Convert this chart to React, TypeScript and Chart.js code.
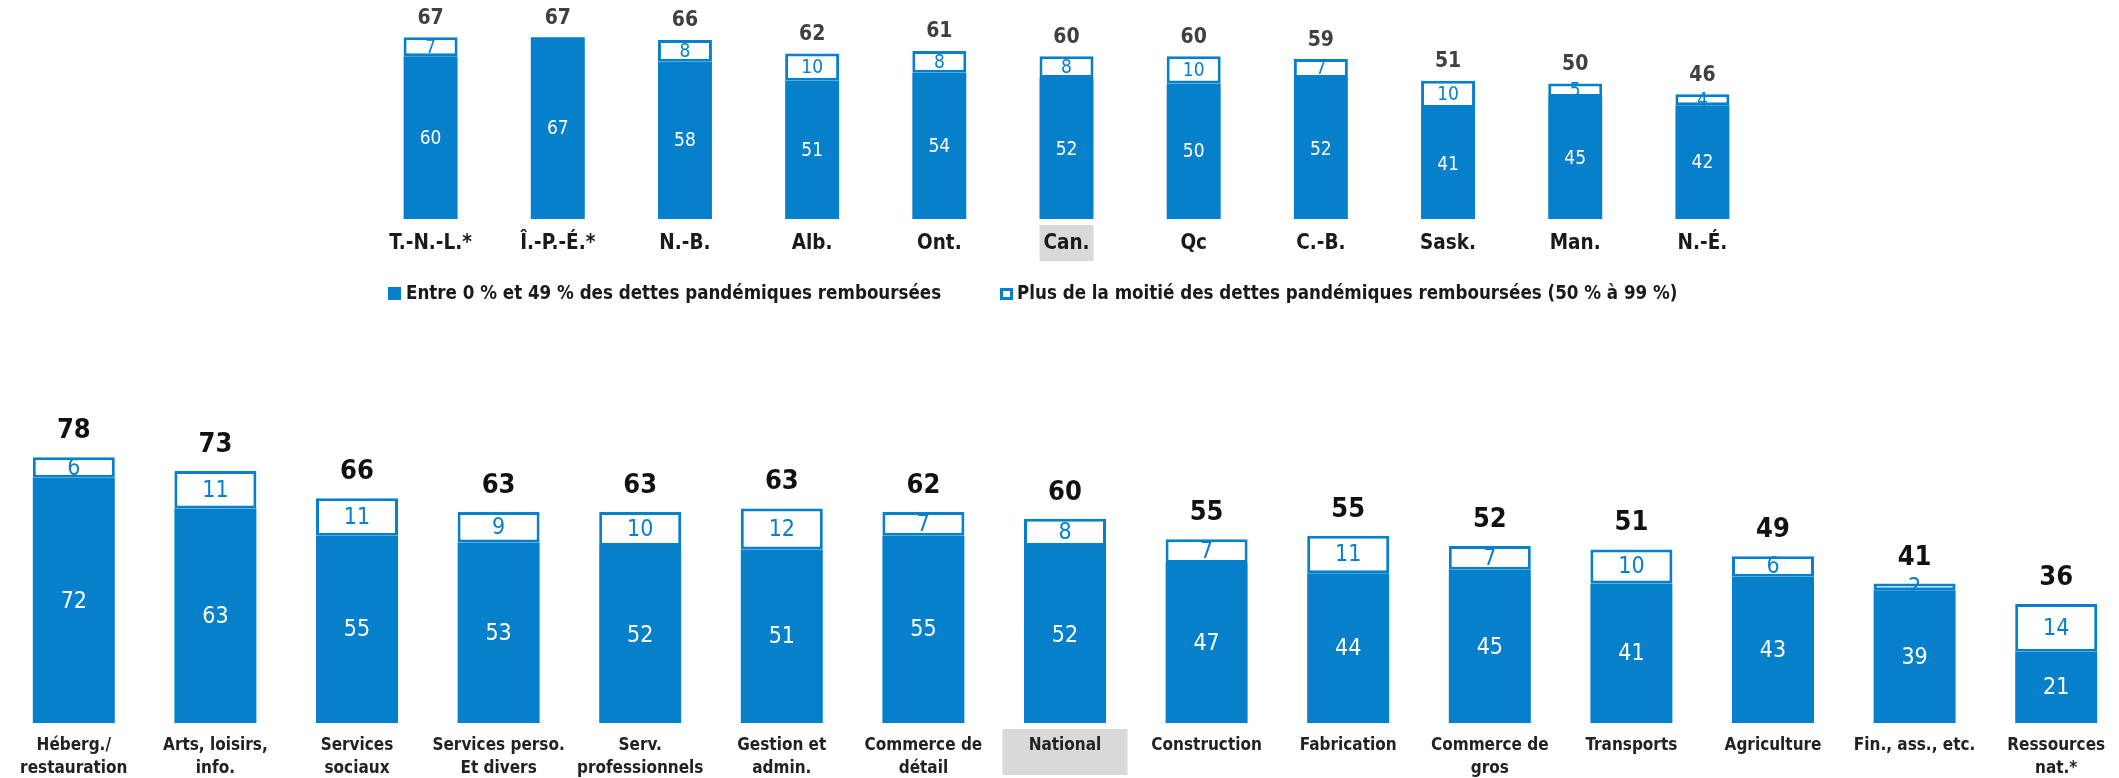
import React, { useEffect, useRef } from "react";
import { Chart, registerables } from "chart.js";

Chart.register(...registerables);

// ---------- DATA ----------
const provinces = ["T.-N.-L.*", "Î.-P.-É.*", "N.-B.", "Alb.", "Ont.", "Can.", "Qc", "C.-B.", "Sask.", "Man.", "N.-É."];
const provLow = [60, 67, 58, 51, 54, 52, 50, 52, 41, 45, 42];
const provHigh = [7, 0, 8, 10, 8, 8, 10, 7, 10, 5, 4];
const provTotal = [67, 67, 66, 62, 61, 60, 60, 59, 51, 50, 46];

const industries = [
  "Héberg./\nrestauration",
  "Arts, loisirs,\ninfo.",
  "Services\nsociaux",
  "Services perso.\nEt divers",
  "Serv.\nprofessionnels",
  "Gestion et\nadmin.",
  "Commerce de\ndétail",
  "National",
  "Construction",
  "Fabrication",
  "Commerce de\ngros",
  "Transports",
  "Agriculture",
  "Fin., ass., etc.",
  "Ressources\nnat.*",
];
const indLow = [72, 63, 55, 53, 52, 51, 55, 52, 47, 44, 45, 41, 43, 39, 21];
const indHigh = [6, 11, 11, 9, 10, 12, 7, 8, 7, 11, 7, 10, 6, 2, 14];
const indTotal = [78, 73, 66, 63, 63, 63, 62, 60, 55, 55, 52, 51, 49, 41, 36];

const seriesNames = [
  "Entre 0 % et 49 % des dettes pandémiques remboursées",
  "Plus de la moitié des dettes pandémiques remboursées (50 % à 99 %)",
];
const highlightTop = "Can.";
const highlightBottom = "National";

// ---------- STYLE ----------
const BLUE = "#0680CA";
const FONT = "'DejaVu Sans Condensed', 'DejaVu Sans', sans-serif";

type Spec = {
  labels: string[];
  low: number[];
  high: number[];
  total: number[];
  yMax: number;
  padBottom: number;
  barPct: number;
  innerFont: string;
  totalFont: string;
  totalColor: string;
  totalOffset: number;
  catFont: string;
  catColor: string;
  catY: number;
  catLine: number;
  highlight: string;
  boxW: number;
  boxTop: number;
  boxH: number;
};

function makePlugin(s: Spec) {
  return {
    id: "customLabels",
    afterDatasetsDraw(chart: any) {
      const ctx = chart.ctx as CanvasRenderingContext2D;
      const xs = chart.scales.x;
      const m0 = chart.getDatasetMeta(0);
      const m1 = chart.getDatasetMeta(1);
      ctx.save();
      ctx.textAlign = "center";
      ctx.textBaseline = "middle";
      for (let i = 0; i < s.labels.length; i++) {
        const b0 = m0.data[i];
        const b1 = m1.data[i];
        ctx.font = s.innerFont;
        ctx.fillStyle = "#ffffff";
        ctx.fillText(String(s.low[i]), b0.x, (b0.y + b0.base) / 2 + 1);
        if (s.high[i] > 0) {
          ctx.fillStyle = BLUE;
          ctx.fillText(String(s.high[i]), b1.x, (b1.y + b1.base) / 2 + 1);
        }
        ctx.font = s.totalFont;
        ctx.fillStyle = s.totalColor;
        ctx.fillText(String(s.total[i]), b1.x, b1.y - s.totalOffset);

        // category labels
        const cx = xs.getPixelForValue(i);
        if (s.labels[i] === s.highlight) {
          ctx.fillStyle = "#d9d9d9";
          ctx.fillRect(cx - s.boxW / 2, s.boxTop, s.boxW, s.boxH);
        }
        ctx.font = s.catFont;
        ctx.fillStyle = s.catColor;
        const lines = s.labels[i].split("\n");
        lines.forEach((ln, k) => ctx.fillText(ln, cx, s.catY + k * s.catLine));
      }
      ctx.restore();
    },
  };
}

function BarChart({ spec, left, top, width, height }: { spec: Spec; left: number; top: number; width: number; height: number }) {
  const ref = useRef<HTMLCanvasElement | null>(null);
  useEffect(() => {
    if (!ref.current) return;
    const chart = new Chart(ref.current, {
      type: "bar",
      data: {
        labels: spec.labels,
        datasets: [
          {
            label: seriesNames[0],
            data: spec.low,
            backgroundColor: BLUE,
            borderWidth: 0,
            barPercentage: spec.barPct,
            categoryPercentage: 1,
          },
          {
            label: seriesNames[1],
            data: spec.high,
            backgroundColor: "#ffffff",
            borderColor: BLUE,
            borderWidth: 3,
            borderSkipped: false,
            barPercentage: spec.barPct,
            categoryPercentage: 1,
          },
        ],
      },
      options: {
        responsive: false,
        animation: false,
        devicePixelRatio: 1,
        layout: { padding: { top: 0, left: 0, right: 0, bottom: spec.padBottom } },
        scales: {
          x: { stacked: true, display: false },
          y: { stacked: true, display: false, min: 0, max: spec.yMax },
        },
        plugins: { legend: { display: false }, tooltip: { enabled: false } },
      },
      plugins: [makePlugin(spec)],
    } as any);
    return () => chart.destroy();
  }, []);
  return (
    <canvas
      ref={ref}
      width={width}
      height={height}
      style={{ position: "absolute", left, top, width, height }}
    />
  );
}

const topSpec: Spec = {
  labels: provinces,
  low: provLow,
  high: provHigh,
  total: provTotal,
  yMax: 219.3 / 2.716,
  padBottom: 320 - 219.3,
  barPct: 0.4245,
  innerFont: `19px ${FONT}`,
  totalFont: `bold 21px ${FONT}`,
  totalColor: "#404040",
  totalOffset: 19,
  catFont: `bold 20.5px ${FONT}`,
  catColor: "#1a1a1a",
  catY: 244,
  catLine: 22,
  highlight: highlightTop,
  boxW: 54,
  boxTop: 225,
  boxH: 36,
};

const bottomSpec: Spec = {
  labels: industries,
  low: indLow,
  high: indHigh,
  total: indTotal,
  yMax: 323.3 / 3.41,
  padBottom: 378 - 323.3,
  barPct: 0.579,
  innerFont: `23px ${FONT}`,
  totalFont: `bold 27px ${FONT}`,
  totalColor: "#111111",
  totalOffset: 26,
  catFont: `bold 17px ${FONT}`,
  catColor: "#222222",
  catY: 346,
  catLine: 22.3,
  highlight: highlightBottom,
  boxW: 125,
  boxTop: 329,
  boxH: 46,
};

function Legend() {
  const text: React.CSSProperties = {
    position: "absolute",
    top: 282,
    fontFamily: FONT,
    fontWeight: "bold",
    fontSize: 18.6,
    lineHeight: "22px",
    color: "#1a1a1a",
    whiteSpace: "nowrap",
  };
  return (
    <>
      <div style={{ position: "absolute", left: 388, top: 287, width: 13, height: 13, background: BLUE }} />
      <div style={{ ...text, left: 406 }}>{seriesNames[0]}</div>
      <div
        style={{
          position: "absolute",
          left: 1000,
          top: 288,
          width: 13,
          height: 12,
          boxSizing: "border-box",
          border: `3px solid ${BLUE}`,
          background: "#fff",
        }}
      />
      <div style={{ ...text, left: 1017 }}>{seriesNames[1]}</div>
    </>
  );
}

export default function App() {
  return (
    <div
      style={{
        position: "fixed",
        left: 0,
        top: 0,
        width: 2119,
        height: 778,
        overflow: "hidden",
        background: "#ffffff",
      }}
    >
      <BarChart spec={topSpec} left={367} top={0} width={1399} height={320} />
      <Legend />
      <BarChart spec={bottomSpec} left={3} top={400} width={2124} height={378} />
    </div>
  );
}
